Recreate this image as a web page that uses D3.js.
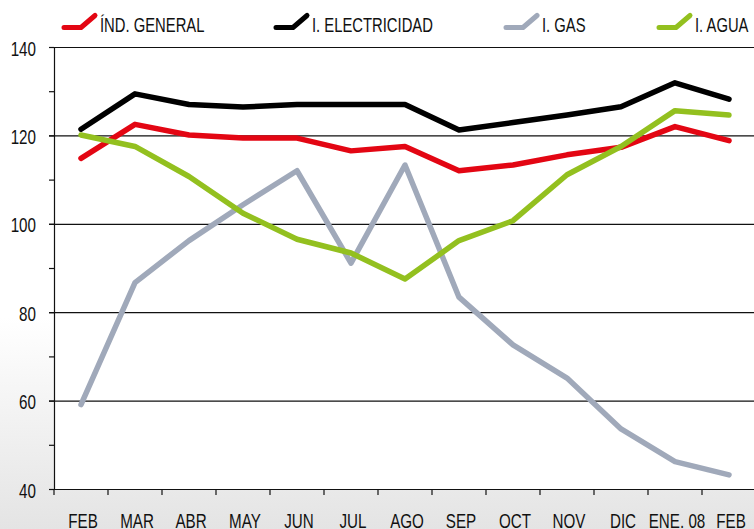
<!DOCTYPE html>
<html lang="es">
<head>
<meta charset="UTF-8">
<title>Índices</title>
<script src="https://d3js.org/d3.v7.min.js"></script>
<style>
  html, body { margin: 0; padding: 0; background: #fff; }
  svg { display: block; font-family: "Liberation Sans", Arial, sans-serif; }
  .lbl { font-size: 20px; fill: #111; }
  .leg { font-size: 19.5px; fill: #111; }
</style>
</head>
<body>
<svg width="754" height="529"></svg>
<script>
// meses
const months = ["FEB", "MAR", "ABR", "MAY", "JUN", "JUL", "AGO", "SEP", "OCT", "NOV", "DIC", "ENE. 08", "FEB"];
const yTicks = [40, 60, 80, 100, 120, 140];

// series
const general = [114.8, 122.5, 120.1, 119.4, 119.4, 116.5, 117.5, 112.0, 113.3, 115.6, 117.3, 122.0, 118.8];
const electricidad = [121.4, 129.4, 127.0, 126.4, 127.0, 127.0, 127.0, 121.2, 122.9, 124.6, 126.5, 131.9, 128.2];
const gas = [59.1, 86.7, 96.2, 104.3, 112.0, 91.1, 113.3, 83.4, 72.6, 65.1, 53.6, 46.2, 43.2];
const agua = [120.1, 117.5, 110.7, 102.4, 96.5, 93.4, 87.5, 96.2, 100.7, 111.1, 117.5, 125.6, 124.6];

const seriesNames = ["ÍND. GENERAL", "I. ELECTRICIDAD", "I. GAS", "I. AGUA"];
const colors = ["#e30613", "#000000", "#a0a9ba", "#93c01f"];
const seriesData = [general, electricidad, gas, agua];

const svg = d3.select("svg");
const W = 754, H = 529;
const narrow = 0.76; // la fuente original es condensada

// fondo gris degradado abajo
const defs = svg.append("defs");
const grad = defs.append("linearGradient").attr("id", "bg").attr("x1", 0).attr("y1", 0).attr("x2", 0).attr("y2", 1);
grad.append("stop").attr("offset", "0.6").attr("stop-color", "#ffffff");
grad.append("stop").attr("offset", "1").attr("stop-color", "#e4e4e4");
svg.append("rect").attr("width", W).attr("height", H).attr("fill", "url(#bg)");

const mLeft = 54, mRight = 756, mTop = 47, mBottom = 489;
svg.append("rect").attr("x", mLeft).attr("y", mTop).attr("width", W - mLeft).attr("height", mBottom - mTop).attr("fill", "#fff");

const idx = d3.range(months.length);
const x = d3.scaleBand().domain(idx).range([mLeft, mRight]);
const y = d3.scaleLinear().domain([40, 140]).range([mBottom, mTop]);

// rejilla
svg.append("g").selectAll("line").data(yTicks.filter(d => d > 40)).join("line")
  .attr("x1", mLeft - 5).attr("x2", W)
  .attr("y1", d => y(d) + 0.5).attr("y2", d => y(d) + 0.5)
  .attr("stroke", "#111").attr("stroke-width", 1.2);

// eje y
const yAxis = svg.append("g").attr("transform", `translate(${mLeft},0)`)
  .call(d3.axisLeft(y).tickValues(d3.range(40, 141, 10)).tickSize(5).tickFormat(""));
yAxis.select(".domain").attr("stroke", "#111").attr("stroke-width", 1.2);
yAxis.selectAll(".tick line").attr("stroke", "#111").attr("stroke-width", 1.2);

svg.append("g").selectAll("text").data(yTicks).join("text")
  .attr("class", "lbl")
  .attr("transform", d => `translate(36,${y(d) + 8.5}) scale(${narrow},1)`)
  .attr("text-anchor", "end")
  .text(d => d);

// eje x
const xAxis = svg.append("g").attr("transform", `translate(0,${mBottom})`)
  .call(d3.axisBottom(x).tickSize(0).tickFormat(""));
xAxis.select(".domain").attr("stroke", "#111").attr("stroke-width", 1.2);
svg.append("g").selectAll("line").data(idx).join("line")
  .attr("x1", d => x(d)).attr("x2", d => x(d))
  .attr("y1", mBottom).attr("y2", mBottom + 6)
  .attr("stroke", "#111").attr("stroke-width", 1.2);

svg.append("g").selectAll("text").data(idx).join("text")
  .attr("class", "lbl")
  .attr("transform", d => `translate(${x(d) + x.bandwidth() / 2 + 2},528) scale(${narrow},1)`)
  .attr("text-anchor", "middle")
  .text(d => months[d]);

// líneas
const line = d3.line()
  .x((d, i) => x(i) + x.bandwidth() / 2)
  .y(d => y(d));

const order = [2, 0, 1, 3];
svg.append("g").selectAll("path").data(order).join("path")
  .attr("d", k => line(seriesData[k]))
  .attr("fill", "none")
  .attr("stroke", k => colors[k])
  .attr("stroke-width", 5.5)
  .attr("stroke-linecap", "round")
  .attr("stroke-linejoin", "round");

// leyenda
const legX = [62, 274, 504, 657];
const leg = svg.append("g").selectAll("g").data(idx.slice(0, 4)).join("g")
  .attr("transform", k => `translate(${legX[k]},0)`);
leg.append("path")
  .attr("d", "M2,27.5 L19,27.5 L33,15.5")
  .attr("fill", "none")
  .attr("stroke", k => colors[k])
  .attr("stroke-width", 5)
  .attr("stroke-linecap", "round")
  .attr("stroke-linejoin", "round");
leg.append("text")
  .attr("class", "leg")
  .attr("transform", `translate(38,32) scale(${narrow},1)`)
  .text(k => seriesNames[k]);
</script>
</body>
</html>
